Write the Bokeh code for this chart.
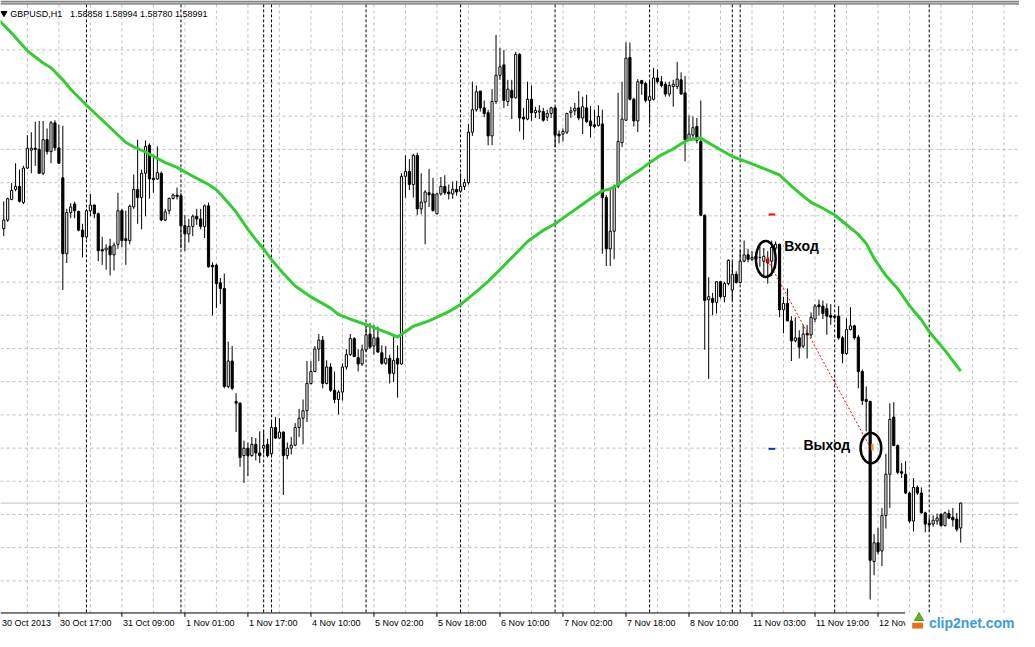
from bokeh.plotting import figure
from bokeh.models import Range1d
from bokeh.embed import file_html
from bokeh.resources import INLINE
from bokeh.core.properties import value

# ---------------- data ----------------
symbol = "GBPUSD,H1"
header_values = ["1.58858", "1.58994", "1.58780", "1.58991"]

open_ = [
    1.60459, 1.60505, 1.60615, 1.60669, 1.60685, 1.60599, 1.60783, 1.60879, 1.60889, 1.60883,
    1.60755, 1.60935, 1.60871, 1.61025, 1.60891, 1.60731, 1.60325, 1.60545, 1.60591, 1.60551,
    1.60451, 1.60415, 1.60555, 1.60585, 1.60539, 1.60347, 1.60345, 1.60365, 1.60319, 1.60375,
    1.60555, 1.60405, 1.60395, 1.60575, 1.60669, 1.60625, 1.60755, 1.60905, 1.60729, 1.60725,
    1.60755, 1.60505, 1.60555, 1.60621, 1.60639, 1.60635, 1.60475, 1.60431, 1.60471, 1.60525,
    1.60511, 1.60471, 1.60581, 1.60263, 1.60263, 1.60169, 1.60139, 1.59615, 1.59751, 1.59535,
    1.59525, 1.59245, 1.59285, 1.59245, 1.59305, 1.59259, 1.59285, 1.59305, 1.59255, 1.59395,
    1.59339, 1.59371, 1.59245, 1.59285, 1.59301, 1.59395, 1.59445, 1.59485, 1.59631, 1.59695,
    1.59815, 1.59863, 1.59631, 1.59719, 1.59595, 1.59545, 1.59585, 1.59719, 1.59785, 1.59871,
    1.59769, 1.59735, 1.59811, 1.59895, 1.59831, 1.59875, 1.59795, 1.59739, 1.59765, 1.59685,
    1.59765, 1.59735, 1.60739, 1.60765, 1.60695, 1.60851, 1.60565, 1.60601, 1.60651, 1.60645,
    1.60539, 1.60645, 1.60685, 1.60655, 1.60645, 1.60669, 1.60659, 1.60685, 1.60705, 1.60975,
    1.61095, 1.61195, 1.61105, 1.61079, 1.60955, 1.61139, 1.61279, 1.61335, 1.61139, 1.61199,
    1.61159, 1.61391, 1.61055, 1.61045, 1.61151, 1.61079, 1.61083, 1.61085, 1.61055, 1.61075,
    1.61105, 1.60965, 1.60965, 1.60975, 1.61079, 1.61089, 1.61105, 1.61051, 1.61105, 1.61035,
    1.61015, 1.61011, 1.61019, 1.60625, 1.60351, 1.60445, 1.60685, 1.60919, 1.61039, 1.61375,
    1.61151, 1.61035, 1.61251, 1.61235, 1.61145, 1.61151, 1.61265, 1.61245, 1.61231, 1.61179,
    1.61219, 1.61219, 1.61255, 1.61185, 1.60935, 1.60959, 1.61005, 1.60925, 1.60531, 1.60079,
    1.60085, 1.60065, 1.60175, 1.60095, 1.60165, 1.60131, 1.60215, 1.60171, 1.60285, 1.60319,
    1.60295, 1.60311, 1.60305, 1.60285, 1.60295, 1.60285, 1.60355, 1.60375, 1.60025, 1.60059,
    1.59965, 1.59859, 1.59875, 1.59831, 1.59899, 1.59891, 1.59975, 1.60051, 1.60045, 1.60031,
    1.59995, 1.59991, 1.59991, 1.59875, 1.59791, 1.59919, 1.59939, 1.59879, 1.59695, 1.59545,
    1.59535, 1.58679, 1.58779, 1.58735, 1.58925, 1.59145, 1.59451, 1.59299, 1.59159, 1.59145,
    1.59045, 1.58895, 1.59075, 1.59045, 1.58939, 1.58883, 1.58879, 1.58895, 1.58931, 1.58871,
    1.58935, 1.58915, 1.58905, 1.58858,
]
high = [
    1.60605, 1.60625, 1.60703, 1.60809, 1.60775, 1.60795, 1.60959, 1.60975, 1.61031, 1.61035,
    1.61035, 1.60995, 1.61035, 1.61039, 1.61015, 1.61009, 1.60565, 1.60595, 1.60603, 1.60555,
    1.60485, 1.60565, 1.60645, 1.60589, 1.60545, 1.60415, 1.60375, 1.60405, 1.60385, 1.60651,
    1.60565, 1.60555, 1.60587, 1.60749, 1.60935, 1.60775, 1.60931, 1.60915, 1.60855, 1.60899,
    1.60765, 1.60565, 1.60625, 1.60647, 1.60679, 1.60649, 1.60531, 1.60511, 1.60535, 1.60565,
    1.60565, 1.60589, 1.60599, 1.60279, 1.60271, 1.60195, 1.60219, 1.59855, 1.59831, 1.59579,
    1.59531, 1.59325, 1.59315, 1.59345, 1.59339, 1.59375, 1.59375, 1.59335, 1.59425, 1.59451,
    1.59445, 1.59375, 1.59315, 1.59345, 1.59419, 1.59495, 1.59545, 1.59751, 1.59751, 1.59831,
    1.59895, 1.59885, 1.59755, 1.59739, 1.59695, 1.59595, 1.59739, 1.59815, 1.59895, 1.59879,
    1.59815, 1.59839, 1.59955, 1.59955, 1.59945, 1.59935, 1.59835, 1.59831, 1.59785, 1.59895,
    1.59835, 1.60755, 1.60851, 1.60831, 1.60859, 1.60865, 1.60755, 1.60665, 1.60779, 1.60731,
    1.60651, 1.60735, 1.60745, 1.60695, 1.60711, 1.60715, 1.60755, 1.60725, 1.61019, 1.61245,
    1.61225, 1.61195, 1.61145, 1.61095, 1.61205, 1.61495, 1.61425, 1.61415, 1.61255, 1.61255,
    1.61405, 1.61399, 1.61105, 1.61245, 1.61225, 1.61111, 1.61119, 1.61105, 1.61095, 1.61111,
    1.61111, 1.60985, 1.60995, 1.61079, 1.61111, 1.61131, 1.61195, 1.61165, 1.61175, 1.61115,
    1.61095, 1.61119, 1.61095, 1.60639, 1.60679, 1.60695, 1.61185, 1.61245, 1.61455, 1.61455,
    1.61159, 1.61259, 1.61255, 1.61245, 1.61245, 1.61319, 1.61311, 1.61275, 1.61245, 1.61245,
    1.61255, 1.61351, 1.61295, 1.61275, 1.61065, 1.61059, 1.61051, 1.61145, 1.60535, 1.60199,
    1.60115, 1.60179, 1.60179, 1.60175, 1.60295, 1.60285, 1.60231, 1.60345, 1.60395, 1.60351,
    1.60339, 1.60335, 1.60365, 1.60355, 1.60339, 1.60395, 1.60391, 1.60379, 1.60095, 1.60139,
    1.59991, 1.59985, 1.59915, 1.59945, 1.59945, 1.60011, 1.60055, 1.60079, 1.60075, 1.60059,
    1.60055, 1.59999, 1.60045, 1.59885, 1.59979, 1.60039, 1.59945, 1.59891, 1.59705, 1.59615,
    1.59539, 1.58825, 1.58859, 1.58965, 1.59255, 1.59525, 1.59531, 1.59305, 1.59205, 1.59215,
    1.59051, 1.59125, 1.59085, 1.59075, 1.58945, 1.58915, 1.58925, 1.58935, 1.58939, 1.58945,
    1.58955, 1.58965, 1.58939, 1.58994,
]
low = [
    1.60419, 1.60495, 1.60611, 1.60659, 1.60599, 1.60591, 1.60779, 1.60755, 1.60795, 1.60751,
    1.60745, 1.60855, 1.60809, 1.60875, 1.60805, 1.60131, 1.60275, 1.60515, 1.60515, 1.60445,
    1.60305, 1.60405, 1.60525, 1.60515, 1.60285, 1.60265, 1.60239, 1.60209, 1.60235, 1.60351,
    1.60359, 1.60265, 1.60375, 1.60565, 1.60485, 1.60455, 1.60525, 1.60619, 1.60651, 1.60719,
    1.60499, 1.60499, 1.60535, 1.60615, 1.60615, 1.60355, 1.60339, 1.60385, 1.60419, 1.60479,
    1.60455, 1.60409, 1.60251, 1.59995, 1.60035, 1.60055, 1.59605, 1.59605, 1.59595, 1.59371,
    1.59185, 1.59099, 1.59135, 1.59239, 1.59219, 1.59205, 1.59255, 1.59235, 1.59235, 1.59335,
    1.59335, 1.59035, 1.59225, 1.59251, 1.59295, 1.59345, 1.59305, 1.59425, 1.59625, 1.59691,
    1.59751, 1.59605, 1.59625, 1.59585, 1.59525, 1.59465, 1.59539, 1.59705, 1.59779, 1.59771,
    1.59695, 1.59725, 1.59799, 1.59815, 1.59785, 1.59795, 1.59731, 1.59731, 1.59631, 1.59639,
    1.59555, 1.59731, 1.60625, 1.60665, 1.60625, 1.60531, 1.60535, 1.60375, 1.60575, 1.60551,
    1.60535, 1.60635, 1.60639, 1.60615, 1.60619, 1.60635, 1.60651, 1.60665, 1.60695, 1.60955,
    1.61085, 1.61085, 1.61055, 1.60905, 1.60905, 1.61125, 1.61255, 1.61105, 1.61115, 1.61045,
    1.61155, 1.60979, 1.60935, 1.61039, 1.61035, 1.61051, 1.61045, 1.61031, 1.61035, 1.61051,
    1.60895, 1.60915, 1.60925, 1.60965, 1.61051, 1.61065, 1.61039, 1.60965, 1.61025, 1.60945,
    1.60995, 1.61005, 1.60325, 1.60259, 1.60259, 1.60295, 1.60675, 1.60895, 1.61035, 1.61145,
    1.61005, 1.60975, 1.61175, 1.61135, 1.61019, 1.61145, 1.61235, 1.61215, 1.61165, 1.61165,
    1.61111, 1.61205, 1.61175, 1.60819, 1.60931, 1.60939, 1.60915, 1.60525, 1.59811, 1.59655,
    1.59995, 1.60005, 1.60085, 1.60065, 1.60155, 1.60075, 1.60165, 1.60165, 1.60279, 1.60279,
    1.60285, 1.60279, 1.60255, 1.60195, 1.60165, 1.60205, 1.60245, 1.59985, 1.59899, 1.59965,
    1.59751, 1.59851, 1.59765, 1.59819, 1.59765, 1.59875, 1.59959, 1.59995, 1.59975, 1.59891,
    1.59945, 1.59975, 1.59865, 1.59739, 1.59785, 1.59915, 1.59865, 1.59605, 1.59515, 1.59375,
    1.58475, 1.58605, 1.58715, 1.58655, 1.58855, 1.58965, 1.59295, 1.59145, 1.59125, 1.59039,
    1.58885, 1.58839, 1.59035, 1.58935, 1.58835, 1.58839, 1.58865, 1.58875, 1.58865, 1.58865,
    1.58905, 1.58865, 1.58839, 1.58780,
]
close = [
    1.60505, 1.60619, 1.60663, 1.60685, 1.60605, 1.60783, 1.60889, 1.60889, 1.60883, 1.60755,
    1.60935, 1.60871, 1.61025, 1.60891, 1.60809, 1.60325, 1.60545, 1.60575, 1.60555, 1.60451,
    1.60415, 1.60555, 1.60585, 1.60539, 1.60341, 1.60339, 1.60355, 1.60319, 1.60371, 1.60555,
    1.60395, 1.60395, 1.60579, 1.60669, 1.60625, 1.60755, 1.60899, 1.60725, 1.60721, 1.60759,
    1.60505, 1.60549, 1.60621, 1.60639, 1.60631, 1.60475, 1.60431, 1.60471, 1.60525, 1.60511,
    1.60471, 1.60581, 1.60255, 1.60255, 1.60165, 1.60139, 1.59615, 1.59751, 1.59605, 1.59525,
    1.59235, 1.59285, 1.59245, 1.59305, 1.59259, 1.59245, 1.59299, 1.59245, 1.59395, 1.59339,
    1.59371, 1.59245, 1.59285, 1.59301, 1.59395, 1.59445, 1.59485, 1.59631, 1.59695, 1.59815,
    1.59863, 1.59631, 1.59719, 1.59595, 1.59545, 1.59585, 1.59719, 1.59785, 1.59871, 1.59775,
    1.59735, 1.59811, 1.59891, 1.59825, 1.59875, 1.59799, 1.59739, 1.59765, 1.59685, 1.59755,
    1.59735, 1.60739, 1.60765, 1.60695, 1.60851, 1.60565, 1.60601, 1.60655, 1.60641, 1.60555,
    1.60645, 1.60685, 1.60651, 1.60645, 1.60669, 1.60655, 1.60685, 1.60705, 1.60975, 1.61095,
    1.61191, 1.61105, 1.61075, 1.60955, 1.61139, 1.61279, 1.61325, 1.61145, 1.61205, 1.61159,
    1.61391, 1.61051, 1.61045, 1.61151, 1.61079, 1.61091, 1.61089, 1.61039, 1.61075, 1.61105,
    1.60959, 1.60955, 1.60979, 1.61075, 1.61089, 1.61103, 1.61051, 1.61111, 1.61031, 1.61009,
    1.61005, 1.61059, 1.60625, 1.60351, 1.60445, 1.60685, 1.60925, 1.61045, 1.61371, 1.61151,
    1.61035, 1.61245, 1.61235, 1.61145, 1.61165, 1.61265, 1.61245, 1.61225, 1.61179, 1.61225,
    1.61231, 1.61259, 1.61179, 1.60935, 1.60965, 1.60999, 1.60931, 1.60531, 1.60075, 1.60095,
    1.60065, 1.60175, 1.60095, 1.60165, 1.60289, 1.60215, 1.60171, 1.60285, 1.60319, 1.60295,
    1.60305, 1.60295, 1.60305, 1.60311, 1.60275, 1.60359, 1.60375, 1.60025, 1.60059, 1.59965,
    1.59859, 1.59875, 1.59825, 1.59895, 1.59891, 1.59985, 1.60045, 1.60041, 1.60005, 1.59991,
    1.59985, 1.59985, 1.59875, 1.59791, 1.59919, 1.59939, 1.59875, 1.59695, 1.59539, 1.59535,
    1.58685, 1.58779, 1.58731, 1.58925, 1.59145, 1.59439, 1.59299, 1.59155, 1.59151, 1.59045,
    1.58895, 1.59075, 1.59045, 1.58939, 1.58879, 1.58875, 1.58899, 1.58911, 1.58871, 1.58939,
    1.58911, 1.58901, 1.58851, 1.58991,
]

# moving average (green), read at these bar indices
ma_bar = [-1, 2, 6, 10, 12, 15, 17, 21, 26, 31, 33, 36, 41, 44, 47, 52, 54, 57, 59, 62,
          64, 66, 68, 71, 74, 78, 83, 85, 88, 92, 95, 98, 100, 104, 108, 113, 116, 120, 123, 126,
          130, 133, 137, 140, 143, 147, 150, 152, 154, 156, 158, 162, 164, 167, 170, 172, 174, 177, 178, 182,
          185, 188, 190, 194, 197, 200, 203, 205, 208, 211, 214, 217, 219, 221, 224, 227, 230, 233, 235, 239,
          243]
ma_val = [1.61570, 1.61505, 1.61410, 1.61345, 1.61320, 1.61255, 1.61205, 1.61119, 1.61020, 1.60920,
          1.60897, 1.60869, 1.60812, 1.60787, 1.60751, 1.60695, 1.60667, 1.60598, 1.60548, 1.60455,
          1.60400, 1.60350, 1.60293, 1.60219, 1.60152, 1.60094, 1.60034, 1.60000, 1.59975, 1.59945,
          1.59922, 1.59898, 1.59879, 1.59937, 1.59966, 1.60015, 1.60053, 1.60122, 1.60177, 1.60240,
          1.60325, 1.60390, 1.60450, 1.60485, 1.60530, 1.60590, 1.60635, 1.60661, 1.60671, 1.60694,
          1.60725, 1.60780, 1.60812, 1.60854, 1.60885, 1.60913, 1.60935, 1.60944, 1.60930, 1.60881,
          1.60845, 1.60822, 1.60805, 1.60772, 1.60746, 1.60687, 1.60633, 1.60600, 1.60568, 1.60532,
          1.60480, 1.60428, 1.60380, 1.60300, 1.60208, 1.60138, 1.60047, 1.59972, 1.59908, 1.59808,
          1.59697]

tick_bars = [-2, 14, 30, 46, 62, 78, 94, 110, 126, 142, 158, 174, 190, 206, 222]
tick_labels = ["30 Oct 2013", "30 Oct 17:00", "31 Oct 09:00", "1 Nov 01:00", "1 Nov 17:00",
               "4 Nov 10:00", "5 Nov 02:00", "5 Nov 18:00", "6 Nov 10:00", "7 Nov 02:00",
               "7 Nov 18:00", "8 Nov 10:00", "11 Nov 03:00", "11 Nov 19:00", "12 Nov 11:00"]
sep_bars = [21, 45, 66, 68, 92, 116, 140, 164, 185, 187, 211, 235]

entry_bar, entry_price = 194, 1.60290
exit_bar, exit_price = 220, 1.59290
sl_price, tp_price = 1.60535, 1.59281
entry_label, exit_label = "Вход", "Выход"

# ---------------- layout helpers (reference pixel frame) ----------------
REF_W, REF_H = 1035, 647
FIG_W, FIG_H = 1019, 631
BAR_PX, BAR0_PX = 4.0, 3.3
P_TOP, P_PER_PX = 1.6167933, 0.000052165


def bx(xr):
    return (xr - BAR0_PX) / BAR_PX


def py(yr):
    return P_TOP - yr * P_PER_PX


FONT = value("Liberation Sans")

p = figure(width=FIG_W, height=FIG_H,
           x_range=Range1d(bx(0), bx(REF_W)), y_range=Range1d(py(REF_H), py(0)),
           x_axis_type=None, y_axis_type=None,
           output_backend="svg", toolbar_location=None,
           min_border=0, outline_line_color=None,
           background_fill_color="white", border_fill_color="white")

# grid
vgrid = [6 + 8 * k for k in range(32)]
p.segment(x0=vgrid, y0=py(4), x1=vgrid, y1=py(628),
          line_color="#c0c0c0", line_dash="3 3", line_width=1)
hgrid = [py(50.6 + 34.03 * k) for k in range(17)]
p.segment(x0=bx(0), y0=hgrid, x1=bx(REF_W), y1=hgrid,
          line_color="#c0c0c0", line_dash="3 3", line_width=1)

# day separators
p.segment(x0=sep_bars, y0=py(4), x1=sep_bars, y1=py(628),
          line_color="black", line_dash="3 2", line_width=1)

# bid line
p.segment(x0=bx(0), y0=close[-1], x1=bx(REF_W), y1=close[-1],
          line_color="#c0c0c0", line_width=1)

# candles
idx = list(range(len(open_)))
up = [i for i in idx if close[i] >= open_[i]]
dn = [i for i in idx if close[i] < open_[i]]
p.segment(x0=idx, y0=high, x1=idx, y1=low, line_color="black", line_width=1)
p.vbar(x=up, bottom=[open_[i] for i in up], top=[close[i] for i in up], width=0.55,
       fill_color="white", line_color="black", line_width=1)
p.vbar(x=dn, top=[open_[i] for i in dn], bottom=[close[i] for i in dn], width=0.55,
       fill_color="black", line_color="black", line_width=1)

# moving average
p.line(ma_bar, ma_val, line_color="#33cc33", line_width=3)

# trade marks
p.segment(x0=entry_bar, y0=entry_price, x1=exit_bar, y1=exit_price,
          line_color="red", line_dash="2 2", line_width=1)
p.segment(x0=entry_bar + 0.2, y0=sl_price, x1=entry_bar + 1.9, y1=sl_price,
          line_color="red", line_width=2)
p.segment(x0=entry_bar + 0.2, y0=tp_price, x1=entry_bar + 1.9, y1=tp_price,
          line_color="#1030d0", line_width=2)
p.rect(x=entry_bar, y=entry_price, width=0.6, height=6 * P_PER_PX,
       fill_color="red", line_color=None)
p.rect(x=exit_bar + 0.55, y=exit_price, width=0.6, height=7 * P_PER_PX,
       fill_color="#e0a000", line_color=None)
p.ellipse(x=[entry_bar - 0.5, exit_bar + 0.2],
          y=[entry_price + 0.00007, exit_price - 0.00005],
          width=[5.0, 5.25], height=[37 * P_PER_PX, 31 * P_PER_PX],
          fill_color=None, line_color="black", line_width=2.5)
p.text(x=[bx(796)], y=[py(252)], text=[entry_label], text_font=FONT,
       text_font_style="bold", text_font_size="14px", text_color="black",
       text_align="left", text_baseline="middle")
p.text(x=[bx(863)], y=[py(456)], text=[exit_label], text_font=FONT,
       text_font_style="bold", text_font_size="14px", text_color="black",
       text_align="right", text_baseline="middle")

# time axis
p.segment(x0=bx(0), y0=py(628), x1=bx(919), y1=py(628), line_color="black", line_width=1)
p.segment(x0=tick_bars, y0=py(628), x1=tick_bars, y1=py(632), line_color="black", line_width=1)
label_x = [max(b, bx(0.5)) for b in tick_bars]   # keep the first label inside the frame
p.text(x=label_x, y=py(638), text=tick_labels, text_font=FONT, text_font_size="9px",
       text_color="black", text_align="left", text_baseline="middle", x_offset=1)

# watermark logo
p.quad(left=bx(919), right=bx(REF_W + 2), top=py(627.5), bottom=py(REF_H + 2),
       fill_color="white", line_color=None)
p.quad(left=bx(926), right=bx(937), top=py(638), bottom=py(644),
       fill_color="#e8701a", line_color=None)
p.scatter(x=[bx(933)], y=[py(633)], marker="triangle", size=9,
          fill_color="#5cb82e", line_color="#3d9a1e")
p.text(x=[bx(943)], y=[py(638)], text=["clip2net.com"], text_font=FONT,
       text_font_style="bold", text_font_size="14px", text_color="#3b9be3",
       text_align="left", text_baseline="middle")

# top border and header
p.segment(x0=bx(0), y0=py(1), x1=bx(REF_W), y1=py(1), line_color="#808080", line_width=2)
p.segment(x0=bx(0), y0=py(3.5), x1=bx(REF_W), y1=py(3.5), line_color="#404040", line_width=1)
p.scatter(x=[bx(3.5)], y=[py(13)], marker="inverted_triangle", size=6,
          fill_color="black", line_color="black")
p.text(x=[bx(10), bx(70.5)], y=[py(13.5), py(13.5)],
       text=[symbol, " ".join(header_values)], text_font=FONT, text_font_size="9px",
       text_color="black", text_align="left", text_baseline="middle")

open("out.html", "w").write(file_html(p, INLINE))
